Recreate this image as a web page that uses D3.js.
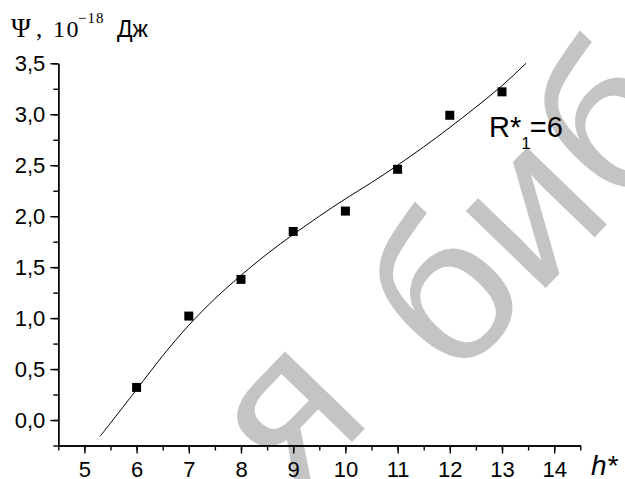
<!DOCTYPE html>
<html>
<head>
<meta charset="utf-8">
<script src="https://cdn.jsdelivr.net/npm/d3@7"></script>
<style>
  body { margin: 0; background: #fff; }
  text { font-family: "Liberation Sans", Arial, sans-serif; }
</style>
</head>
<body>
<div id="chart"></div>
<script>
// measured points
var hValues = [6, 7, 8, 9, 10, 11, 12, 13];
var psiValues = [0.32, 1.02, 1.38, 1.85, 2.05, 2.46, 2.99, 3.22];

// fitted curve
var fitH = [5.30, 5.5, 6.0, 6.5, 7.0, 7.5, 8.0, 8.5, 9.0, 9.5, 10.0, 10.5, 11.0, 11.5, 12.0, 12.5, 13.0, 13.46];
var fitPsi = [-0.16, -0.03, 0.30, 0.63, 0.93, 1.19, 1.42, 1.63, 1.82, 2.00, 2.17, 2.33, 2.50, 2.68, 2.87, 3.07, 3.28, 3.50];

// tick labels
var xTicks = [5, 6, 7, 8, 9, 10, 11, 12, 13, 14];
var yTicks = [0, 0.5, 1, 1.5, 2, 2.5, 3, 3.5];

var width = 625;
var height = 479;

var svg = d3.select("#chart")
    .append("svg")
    .attr("width", width)
    .attr("height", height);

// watermark behind everything
var mark = svg.append("g")
    .attr("font-size", 210)
    .attr("fill", "#c4c4c4");
mark.append("text")
    .attr("transform", "translate(296,500) rotate(-46)")
    .text("я");
mark.append("text")
    .attr("transform", "translate(452,385) rotate(-46)")
    .text("библиотека");

var xScale = d3.scaleLinear()
    .domain([4.5, 14.5])
    .range([58.3, 580.3]);

var yScale = d3.scaleLinear()
    .domain([-0.25, 3.5])
    .range([445.5, 63.3]);

var comma = function(d) { return d3.format(".1f")(d).replace(".", ","); };

// minor ticks first, then the labelled ones
svg.append("g")
    .attr("transform", "translate(0," + yScale(-0.25) + ")")
    .call(d3.axisBottom(xScale).tickValues(d3.range(4.5, 14.51, 0.5)).tickSize(5).tickSizeOuter(0).tickFormat(""));

svg.append("g")
    .attr("class", "xAxis")
    .attr("transform", "translate(0," + yScale(-0.25) + ")")
    .call(d3.axisBottom(xScale).tickValues(xTicks).tickSize(8).tickSizeOuter(0).tickPadding(8));

svg.append("g")
    .attr("transform", "translate(" + xScale(4.5) + ",0)")
    .call(d3.axisLeft(yScale).tickValues(d3.range(-0.25, 3.51, 0.25)).tickSize(5).tickSizeOuter(0).tickFormat(""));

svg.append("g")
    .attr("class", "yAxis")
    .attr("transform", "translate(" + xScale(4.5) + ",0)")
    .call(d3.axisLeft(yScale).tickValues(yTicks).tickSize(8).tickSizeOuter(0).tickPadding(5).tickFormat(comma));

svg.selectAll(".domain, .tick line")
    .attr("stroke", "#000")
    .attr("stroke-width", 1.4);

svg.selectAll(".xAxis text, .yAxis text")
    .attr("font-family", "'Liberation Sans', Arial, sans-serif")
    .attr("font-size", 22)
    .attr("fill", "#000");

// fitted curve
var fitData = fitH.map(function(h, i) { return [h, fitPsi[i]]; });
svg.append("path")
    .datum(fitData)
    .attr("fill", "none")
    .attr("stroke", "#000")
    .attr("stroke-width", 1)
    .attr("d", d3.line()
        .x(function(d) { return xScale(d[0]); })
        .y(function(d) { return yScale(d[1]); })
        .curve(d3.curveNatural));

// square markers
var points = hValues.map(function(h, i) { return { h: h, psi: psiValues[i] }; });
svg.selectAll("rect.pt")
    .data(points)
    .enter()
    .append("rect")
    .attr("class", "pt")
    .attr("x", function(d) { return xScale(d.h) - 4.5; })
    .attr("y", function(d) { return yScale(d.psi) - 4.5; })
    .attr("width", 9)
    .attr("height", 9)
    .attr("fill", "#000");

// y title: Ψ , 10^-18 Дж
var serif = "'Liberation Serif', 'Times New Roman', serif";
var yTitle = svg.append("text")
    .attr("y", 37)
    .attr("fill", "#000");
yTitle.append("tspan")
    .attr("x", 11)
    .attr("font-family", serif)
    .attr("font-size", 27)
    .text("Ψ");
yTitle.append("tspan")
    .attr("x", 36)
    .attr("font-family", serif)
    .attr("font-size", 25)
    .text(",");
yTitle.append("tspan")
    .attr("x", 53)
    .attr("font-family", serif)
    .attr("font-size", 24)
    .attr("letter-spacing", 1.5)
    .text("10");
yTitle.append("tspan")
    .attr("x", 78)
    .attr("y", 23)
    .attr("font-family", serif)
    .attr("font-size", 15)
    .attr("letter-spacing", 1)
    .text("\u221218");
yTitle.append("tspan")
    .attr("x", 117)
    .attr("y", 37)
    .attr("font-size", 23)
    .text("Дж");

// x title
svg.append("text")
    .attr("x", 591)
    .attr("y", 475)
    .attr("font-size", 28)
    .attr("font-style", "italic")
    .attr("fill", "#000")
    .text("h*");

// annotation R*1=6
var note = svg.append("text")
    .attr("x", 489)
    .attr("y", 137)
    .attr("font-size", 29)
    .attr("fill", "#000");
note.append("tspan").text("R*");
note.append("tspan").attr("font-size", 17).attr("dy", 12).text("1");
note.append("tspan").attr("dx", -1).attr("dy", -12).text("=6");
</script>
</body>
</html>
